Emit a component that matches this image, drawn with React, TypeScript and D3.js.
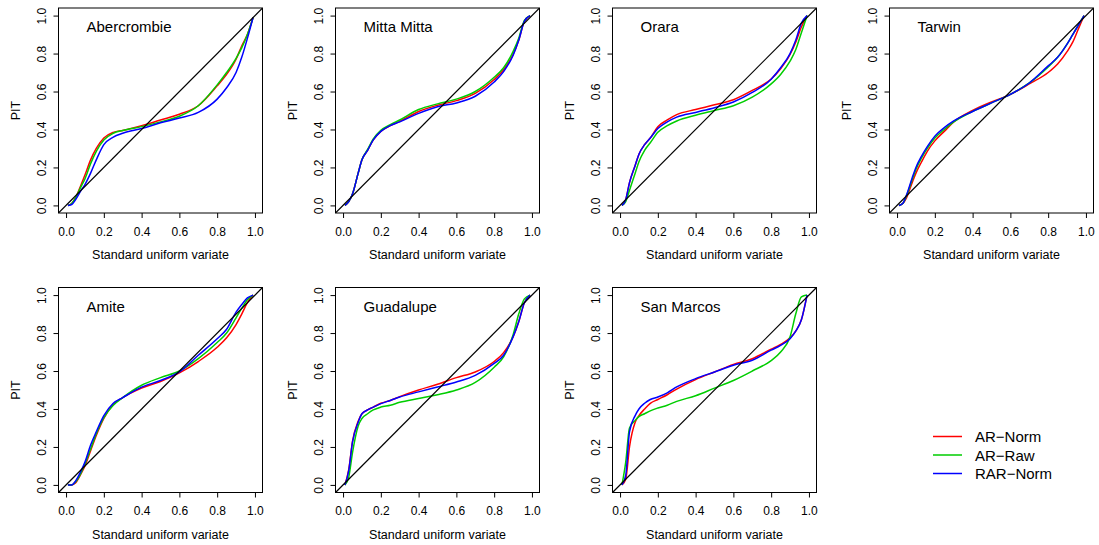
import React, { useEffect, useRef } from 'react';
import * as d3 from 'd3';

// shared grid of standard uniform variates
const uGrid = [0.01, 0.03, 0.05, 0.08, 0.1, 0.13, 0.16, 0.2, 0.25, 0.3, 0.4, 0.5, 0.6, 0.7, 0.8, 0.85, 0.9, 0.93, 0.96, 0.99];

const seriesNames = ['AR\u2212Norm', 'AR\u2212Raw', 'RAR\u2212Norm'];
const seriesColors = ['#ff0000', '#00cd00', '#0000ff'];

const catchments = ['Abercrombie', 'Mitta Mitta', 'Orara', 'Tarwin', 'Amite', 'Guadalupe', 'San Marcos'];

const abercrombieNorm = [0, 0.01, 0.04, 0.11, 0.16, 0.24, 0.30, 0.355, 0.385, 0.395, 0.42, 0.45, 0.48, 0.525, 0.63, 0.69, 0.77, 0.84, 0.9, 0.99];
const abercrombieRaw = [0, 0.01, 0.04, 0.10, 0.14, 0.22, 0.285, 0.345, 0.38, 0.395, 0.415, 0.44, 0.47, 0.525, 0.635, 0.70, 0.775, 0.83, 0.9, 0.99];
const abercrombieRar = [0, 0.005, 0.03, 0.08, 0.11, 0.17, 0.24, 0.32, 0.36, 0.38, 0.405, 0.435, 0.46, 0.49, 0.56, 0.62, 0.70, 0.78, 0.88, 0.99];

const mittaNorm = [0, 0.02, 0.06, 0.17, 0.24, 0.29, 0.345, 0.39, 0.42, 0.443, 0.495, 0.528, 0.552, 0.59, 0.663, 0.715, 0.795, 0.87, 0.97, 1.0];
const mittaRaw = [0, 0.02, 0.06, 0.17, 0.24, 0.295, 0.35, 0.395, 0.425, 0.45, 0.505, 0.535, 0.56, 0.6, 0.675, 0.725, 0.81, 0.88, 0.975, 1.0];
const mittaRar = [0, 0.02, 0.06, 0.17, 0.24, 0.29, 0.345, 0.39, 0.42, 0.44, 0.485, 0.52, 0.54, 0.575, 0.65, 0.705, 0.79, 0.87, 0.97, 1.0];

const oraraNorm = [0, 0.03, 0.12, 0.21, 0.27, 0.32, 0.355, 0.415, 0.45, 0.478, 0.505, 0.53, 0.557, 0.606, 0.666, 0.72, 0.795, 0.86, 0.94, 1.0];
const oraraRaw = [0, 0.02, 0.08, 0.17, 0.23, 0.29, 0.33, 0.385, 0.42, 0.445, 0.475, 0.5, 0.525, 0.57, 0.64, 0.69, 0.76, 0.82, 0.91, 1.0];
const oraraRar = [0, 0.03, 0.12, 0.21, 0.27, 0.32, 0.355, 0.405, 0.44, 0.465, 0.49, 0.515, 0.545, 0.595, 0.665, 0.725, 0.8, 0.87, 0.96, 1.0];

const tarwinNorm = [0, 0.01, 0.04, 0.12, 0.17, 0.23, 0.285, 0.34, 0.39, 0.44, 0.5, 0.545, 0.585, 0.64, 0.70, 0.745, 0.81, 0.86, 0.93, 1.0];
const tarwinRaw = [0, 0.01, 0.05, 0.135, 0.19, 0.25, 0.3, 0.355, 0.4, 0.44, 0.495, 0.54, 0.585, 0.645, 0.73, 0.78, 0.85, 0.9, 0.95, 1.0];
const tarwinRar = [0, 0.01, 0.055, 0.145, 0.2, 0.26, 0.31, 0.365, 0.41, 0.445, 0.495, 0.54, 0.585, 0.645, 0.735, 0.78, 0.85, 0.9, 0.95, 1.0];

const amiteNorm = [0, 0, 0.01, 0.06, 0.1, 0.18, 0.26, 0.35, 0.425, 0.46, 0.51, 0.545, 0.59, 0.65, 0.725, 0.775, 0.845, 0.9, 0.96, 1.0];
const amiteRaw = [0, 0, 0.015, 0.065, 0.11, 0.19, 0.27, 0.355, 0.42, 0.46, 0.525, 0.565, 0.6, 0.665, 0.75, 0.8, 0.88, 0.93, 0.975, 1.0];
const amiteRar = [0, 0, 0.02, 0.075, 0.12, 0.21, 0.28, 0.365, 0.43, 0.46, 0.515, 0.55, 0.595, 0.683, 0.77, 0.82, 0.91, 0.95, 0.985, 1.0];

const guadalupeNorm = [0, 0.08, 0.23, 0.335, 0.375, 0.395, 0.41, 0.43, 0.445, 0.465, 0.5, 0.53, 0.565, 0.595, 0.65, 0.697, 0.78, 0.86, 0.96, 1.0];
const guadalupeRaw = [0, 0.04, 0.17, 0.31, 0.35, 0.375, 0.395, 0.41, 0.42, 0.435, 0.455, 0.475, 0.5, 0.54, 0.62, 0.675, 0.79, 0.9, 0.98, 1.0];
const guadalupeRar = [0, 0.075, 0.225, 0.33, 0.375, 0.395, 0.41, 0.428, 0.445, 0.463, 0.49, 0.516, 0.542, 0.577, 0.64, 0.683, 0.78, 0.86, 0.96, 1.0];

const sanMarcosNorm = [0, 0.03, 0.2, 0.33, 0.365, 0.4, 0.43, 0.45, 0.475, 0.505, 0.555, 0.595, 0.635, 0.665, 0.715, 0.74, 0.775, 0.81, 0.87, 1.0];
const sanMarcosRaw = [0, 0.12, 0.3, 0.34, 0.36, 0.375, 0.39, 0.405, 0.42, 0.44, 0.47, 0.51, 0.55, 0.6, 0.655, 0.7, 0.78, 0.9, 0.99, 1.0];
const sanMarcosRar = [0, 0.05, 0.28, 0.365, 0.4, 0.43, 0.45, 0.463, 0.485, 0.516, 0.56, 0.595, 0.63, 0.657, 0.71, 0.735, 0.77, 0.81, 0.87, 1.0];

const panelSeries = [
  [abercrombieNorm, abercrombieRaw, abercrombieRar],
  [mittaNorm, mittaRaw, mittaRar],
  [oraraNorm, oraraRaw, oraraRar],
  [tarwinNorm, tarwinRaw, tarwinRar],
  [amiteNorm, amiteRaw, amiteRar],
  [guadalupeNorm, guadalupeRaw, guadalupeRar],
  [sanMarcosNorm, sanMarcosRaw, sanMarcosRar],
];

const tickValues = [0, 0.2, 0.4, 0.6, 0.8, 1.0];

const W = 1099;
const H = 545;
const FONT = '"Liberation Sans", Arial, Helvetica, sans-serif';

const App = () => {
  const svgRef = useRef(null);

  useEffect(() => {
    const svg = d3.select(svgRef.current);
    svg.selectAll('*').remove();

    const colLeft = [58.5, 335.5, 612.5, 889.5];
    const rowTop = [8, 287.5];
    const pw = 204;
    const ph = 205;

    catchments.forEach((name, i) => {
      const left = colLeft[i % 4];
      const top = rowTop[Math.floor(i / 4)];

      const x = d3.scaleLinear().domain([-0.04, 1.04]).range([left, left + pw]);
      const y = d3.scaleLinear().domain([-0.04, 1.04]).range([top + ph, top]);

      const g = svg.append('g');
      const clipId = `clip-${i}`;
      g.append('clipPath').attr('id', clipId)
        .append('rect')
        .attr('x', left).attr('y', top).attr('width', pw).attr('height', ph);

      const line = d3.line()
        .x(d => x(d[0]))
        .y(d => y(d[1]))
        .curve(d3.curveMonotoneX);

      const plot = g.append('g').attr('clip-path', `url(#${clipId})`);
      panelSeries[i].forEach((vals, s) => {
        plot.append('path')
          .datum(uGrid.map((u, k) => [u, vals[k]]))
          .attr('d', line)
          .attr('fill', 'none')
          .attr('stroke', seriesColors[s])
          .attr('stroke-width', 1.5);
      });

      // 1:1 line
      plot.append('path')
        .datum([[-0.04, -0.04], [1.04, 1.04]])
        .attr('d', d3.line().x(d => x(d[0])).y(d => y(d[1])))
        .attr('stroke', '#000')
        .attr('stroke-width', 1.2);

      g.append('rect')
        .attr('x', left).attr('y', top).attr('width', pw).attr('height', ph)
        .attr('fill', 'none').attr('stroke', '#000').attr('stroke-width', 1);

      // x axis
      const xAxis = g.append('g')
        .attr('transform', `translate(0,${top + ph})`)
        .call(d3.axisBottom(x).tickValues(tickValues).tickFormat(d3.format('.1f')).tickSize(5).tickPadding(9));
      xAxis.select('.domain').remove();
      xAxis.selectAll('text').attr('font-size', 12).attr('font-family', FONT).attr('fill', '#000');

      // y axis
      const yAxis = g.append('g')
        .attr('transform', `translate(${left},0)`)
        .call(d3.axisLeft(y).tickValues(tickValues).tickFormat(d3.format('.1f')).tickSize(5));
      yAxis.select('.domain').remove();
      yAxis.selectAll('.tick text')
        .attr('x', null).attr('dy', null)
        .attr('transform', 'translate(-13,0) rotate(-90)')
        .attr('text-anchor', 'middle')
        .attr('font-size', 12).attr('font-family', FONT).attr('fill', '#000');

      g.append('text')
        .attr('x', left + pw / 2).attr('y', top + ph + 46)
        .attr('text-anchor', 'middle')
        .attr('font-size', 12.5).attr('font-family', FONT)
        .text('Standard uniform variate');

      g.append('text')
        .attr('transform', `translate(${left - 39},${top + ph / 2}) rotate(-90)`)
        .attr('text-anchor', 'middle')
        .attr('font-size', 12.5).attr('font-family', FONT)
        .text('PIT');

      g.append('text')
        .attr('x', left + 28).attr('y', top + 24)
        .attr('font-size', 15).attr('font-family', FONT)
        .text(name);
    });

    // legend
    const legend = svg.append('g');
    seriesNames.forEach((name, s) => {
      const ly = 436.5 + s * 18.5;
      legend.append('line')
        .attr('x1', 933).attr('x2', 962).attr('y1', ly).attr('y2', ly)
        .attr('stroke', seriesColors[s]).attr('stroke-width', 1.5);
      legend.append('text')
        .attr('x', 975).attr('y', ly + 5.5)
        .attr('font-size', 15).attr('font-family', FONT)
        .text(name);
    });
  }, []);

  return (
    <svg ref={svgRef} width={W} height={H}
      style={{ position: 'absolute', left: 0, top: 0, background: '#fff' }} />
  );
};

export default App;
